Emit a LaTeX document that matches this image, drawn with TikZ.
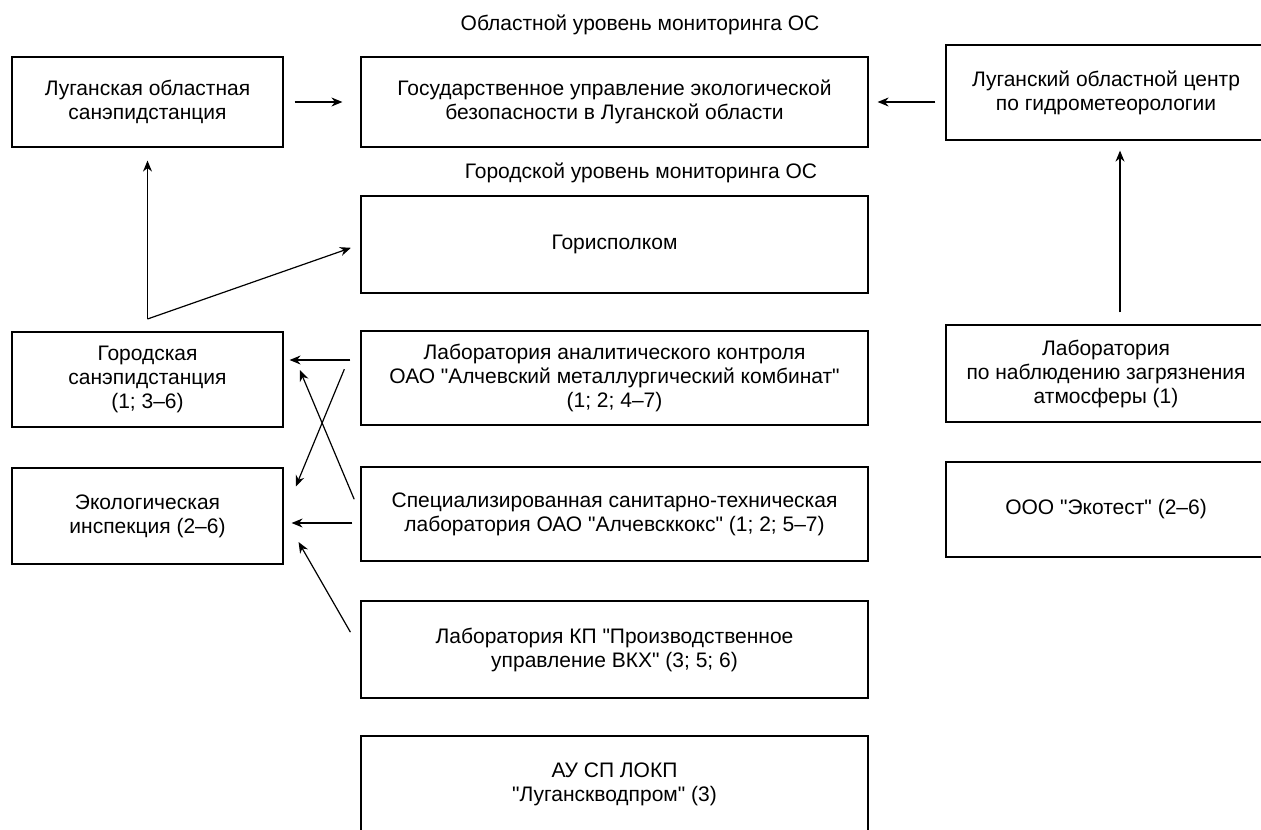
\documentclass[tikz,border=0pt]{standalone}
\usepackage{fontspec}
\setmainfont{Liberation Sans}[Ligatures=TeXOff]
\usetikzlibrary{arrows.meta}
\tikzset{
  blok/.style={draw, line width=0.6pt, align=center, inner sep=0pt,
    font=\fontsize{10.5}{12}\selectfont},
  urov/.style={font=\fontsize{10.5}{12}\selectfont},
  svyaz/.style={line width=0.6pt, -{Stealth[length=5.5pt,width=4.5pt]}},
}
\begin{document}
\begin{tikzpicture}[x=0.5pt,y=-0.5pt]
            \path[use as bounding box] (0,0) rectangle (1261,829);
            \clip (0,0) rectangle (1261,829);
            % областной уровень
            \node[urov] (t1) at (640,25) {Областной уровень мониторинга ОС};
            \node[blok, minimum width=135.5pt, minimum height=45pt] (oblsan) at (147.5,102)
                {Луганская областная\\санэпидстанция};
            \node[blok, minimum width=253.5pt, minimum height=45pt] (gosupr) at (614.5,102)
                {Государственное управление экологической\\безопасности в Луганской области};
            \node[blok, minimum width=160pt, minimum height=47.5pt] (gidromet) at (1106,92.5)
                {Луганский областной центр\\по гидрометеорологии};
            % городской уровень
            \node[urov] (t2) at (641,173) {Городской уровень мониторинга ОС};
            \node[blok, minimum width=253.5pt, minimum height=48.5pt] (gorisp) at (614.5,244.5)
                {Горисполком};
            \node[blok, minimum width=135.5pt, minimum height=47.5pt] (gorsan) at (147.5,379.5)
                {Городская\\санэпидстанция\\(1; 3–6)};
            \node[blok, minimum width=253.5pt, minimum height=47pt] (labamk) at (614.5,378)
                {Лаборатория аналитического контроля\\ОАО "Алчевский металлургический комбинат"\\(1; 2; 4–7)};
            \node[blok, minimum width=160pt, minimum height=48.5pt] (labatm) at (1106,373.5)
                {Лаборатория\\по наблюдению загрязнения\\атмосферы (1)};
            \node[blok, minimum width=135.5pt, minimum height=48pt] (ekoinsp) at (147.5,516)
                {Экологическая\\инспекция (2–6)};
            \node[blok, minimum width=253.5pt, minimum height=47pt] (spec) at (614.5,514)
                {Специализированная санитарно-техническая\\лаборатория ОАО "Алчевсккокс" (1; 2; 5–7)};
            \node[blok, minimum width=160pt, minimum height=47.5pt] (ekotest) at (1106,509.5)
                {ООО "Экотест" (2–6)};
            \node[blok, minimum width=253.5pt, minimum height=48.5pt] (labkp) at (614.5,649.5)
                {Лаборатория КП "Производственное\\управление ВКХ" (3; 5; 6)};
            \node[blok, minimum width=253.5pt, minimum height=48pt] (auspl) at (614.5,784)
                {АУ СП ЛОКП\\"Луганскводпром" (3)};
            % связи
            \draw[svyaz, shorten <=5.5pt, shorten >=9pt] (oblsan) -- (gosupr);
            \draw[svyaz, shorten <=5pt, shorten >=4.5pt] (gidromet.west |- gosupr.east) -- (gosupr.east);
            \draw[svyaz, shorten <=6pt, shorten >=5pt] ([xshift=7pt]labatm.north) -- ([xshift=7pt]gidromet.south);
            \coordinate (razv) at (147.5,319);
            \draw[svyaz, shorten >=6.5pt] (razv) -- (oblsan.south);
            \draw[svyaz, shorten >=5pt] (razv) -- (gorisp.west);
            \draw[svyaz, shorten <=5pt, shorten >=3pt] ([yshift=9pt]labamk.west) -- ([yshift=9pt]labamk.west -| gorsan.east);
            \draw[svyaz, shorten <=4pt, shorten >=4pt] ([yshift=-4.5pt]spec.west) -- ([yshift=-4.5pt]spec.west -| ekoinsp.east);
            \draw[svyaz, shorten <=21pt, shorten >=16pt] (labamk.north west) -- (ekoinsp.east);
            \draw[svyaz, shorten <=8pt, shorten >=21pt] (spec.west) -- (gorsan.north east);
            \draw[svyaz, shorten <=10pt, shorten >=15pt] (labkp.west) -- (ekoinsp.east);
        \end{tikzpicture}
\end{document}
